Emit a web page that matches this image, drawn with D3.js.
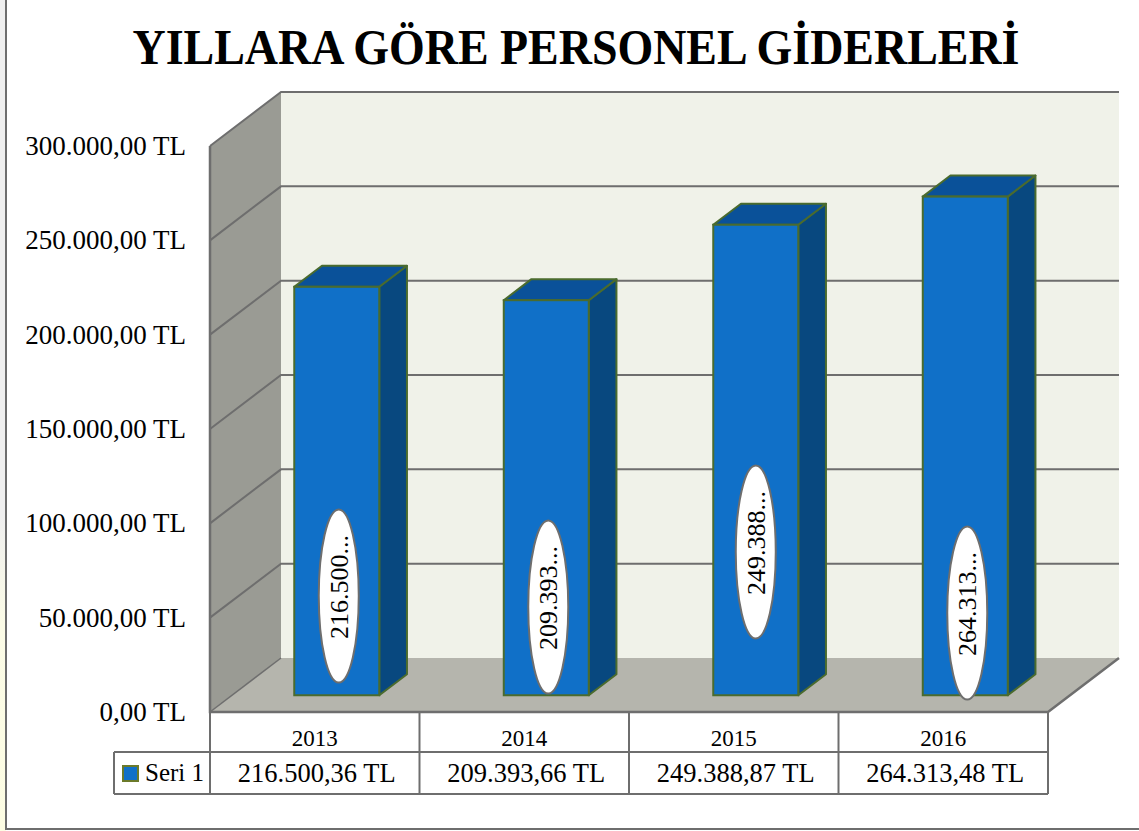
<!DOCTYPE html>
<html>
<head>
<meta charset="utf-8">
<script src="https://cdn.jsdelivr.net/npm/d3@7"></script>
<style>
  html, body { margin: 0; padding: 0; background: #fff; }
  svg { display: block; }
  text { font-family: "Liberation Serif", serif; fill: #000; }
</style>
</head>
<body>
<div id="chart"></div>
<script>
const years = ["2013", "2014", "2015", "2016"];
const values = [216500.36, 209393.66, 249388.87, 264313.48];
const tableLabels = ["216.500,36 TL", "209.393,66 TL", "249.388,87 TL", "264.313,48 TL"];
const bubbleLabels = ["216.500...", "209.393...", "249.388...", "264.313..."];
const yTicks = [0, 50000, 100000, 150000, 200000, 250000, 300000];
const yTickLabels = ["0,00 TL", "50.000,00 TL", "100.000,00 TL", "150.000,00 TL", "200.000,00 TL", "250.000,00 TL", "300.000,00 TL"];
const seriesName = "Seri 1";
const title = "YILLARA GÖRE PERSONEL GİDERLERİ";

const width = 1139, height = 831;
const grey = "#6e6e6e";

// front edge of the 3d box
const boxLeft = 210, boxRight = 1048, boxBottom = 712, boxTop = 146;
const depthX = 71, depthY = 54;

const x = d3.scaleBand().domain(years).range([boxLeft, boxRight]);
const y = d3.scaleLinear().domain([0, 300000]).range([boxBottom, boxTop]);

// d = 0 front of box, d = 1 back wall
const px = (v, d) => v + depthX * d;
const py = (v, d) => y(v) - depthY * d;

const svg = d3.select("#chart").append("svg")
  .attr("width", width)
  .attr("height", height);

// strip left of the frame, faint yellow towards the bottom
const strip = svg.append("defs").append("linearGradient")
  .attr("id", "strip").attr("x1", 0).attr("y1", 0).attr("x2", 0).attr("y2", 1);
strip.append("stop").attr("offset", 0.62).attr("stop-color", "#efefef");
strip.append("stop").attr("offset", 0.75).attr("stop-color", "#fbfbe6");
strip.append("stop").attr("offset", 1).attr("stop-color", "#fdfde3");
svg.append("rect")
  .attr("width", 6).attr("height", height)
  .attr("fill", "url(#strip)");

// outer frame
svg.append("rect")
  .attr("x", 6).attr("y", -5)
  .attr("width", width).attr("height", 834)
  .attr("fill", "#fff")
  .attr("stroke", grey).attr("stroke-width", 2);

svg.append("text")
  .attr("x", 576).attr("y", 64)
  .attr("text-anchor", "middle")
  .attr("font-size", 50)
  .attr("font-weight", "bold")
  .attr("textLength", 887)
  .attr("lengthAdjust", "spacingAndGlyphs")
  .text(title);

const line = d3.line();

// back wall, side wall, floor
svg.append("path")
  .attr("d", line([[px(boxLeft, 1), py(0, 1)], [px(boxRight, 1), py(0, 1)], [px(boxRight, 1), py(300000, 1)], [px(boxLeft, 1), py(300000, 1)]]) + "Z")
  .attr("fill", "#f0f2e9");

svg.append("path")
  .attr("d", line([[boxLeft, y(0)], [px(boxLeft, 1), py(0, 1)], [px(boxLeft, 1), py(300000, 1)], [boxLeft, y(300000)]]) + "Z")
  .attr("fill", "#9a9b94");

svg.append("path")
  .attr("d", line([[boxLeft, y(0)], [boxRight, y(0)], [px(boxRight, 1), py(0, 1)], [px(boxLeft, 1), py(0, 1)]]) + "Z")
  .attr("fill", "#b5b5ad");

// gridlines
svg.selectAll(".grid")
  .data(yTicks)
  .enter()
  .append("path")
  .attr("class", "grid")
  .attr("d", d => line([[boxLeft, y(d)], [px(boxLeft, 1), py(d, 1)], [px(boxRight, 1), py(d, 1)]]))
  .attr("fill", "none")
  .attr("stroke", d => d === 0 ? "none" : grey)
  .attr("stroke-width", 2);

// box edges
svg.append("path")
  .attr("d", line([[boxLeft, y(300000)], [boxLeft, y(0)], [boxRight, y(0)], [px(boxRight, 1), py(0, 1)]]))
  .attr("fill", "none").attr("stroke", grey).attr("stroke-width", 2.5);
svg.append("path")
  .attr("d", line([[boxLeft, y(0)], [px(boxLeft, 1), py(0, 1)]]))
  .attr("fill", "none").attr("stroke", grey).attr("stroke-width", 1.5);

// bars
const barFront = 0.31, barBack = 0.70, barWidth = 85;
const bars = svg.selectAll(".bar")
  .data(years)
  .enter()
  .append("g")
  .attr("class", "bar");

const bx0 = (d) => px(x(d) + x.bandwidth() / 2 - barWidth / 2, barFront);
const bx1 = (d) => bx0(d) + barWidth;
const back = (barBack - barFront) * depthX;
const val = (i) => values[i];

bars.append("path") // side
  .attr("d", (d, i) => line([
    [bx1(d), py(0, barFront)], [bx1(d) + back, py(0, barBack)],
    [bx1(d) + back, py(val(i), barBack)], [bx1(d), py(val(i), barFront)]]) + "Z")
  .attr("fill", "#08487f").attr("stroke", "#4a6b2e").attr("stroke-width", 2).attr("stroke-linejoin", "round");

bars.append("path") // top
  .attr("d", (d, i) => line([
    [bx0(d), py(val(i), barFront)], [bx1(d), py(val(i), barFront)],
    [bx1(d) + back, py(val(i), barBack)], [bx0(d) + back, py(val(i), barBack)]]) + "Z")
  .attr("fill", "#0a5199").attr("stroke", "#4a6b2e").attr("stroke-width", 2).attr("stroke-linejoin", "round");

bars.append("rect") // front
  .attr("x", d => bx0(d))
  .attr("y", (d, i) => py(val(i), barFront))
  .attr("width", barWidth)
  .attr("height", (d, i) => py(0, barFront) - py(val(i), barFront))
  .attr("fill", "#1070c8").attr("stroke", "#4a6b2e").attr("stroke-width", 2);

// data label bubbles were dragged by hand in the source chart
const bubbleShiftX = [2, 2, 0, 2];
const bubbleCy = [596, 607, 552, 613];
const bubbles = svg.selectAll(".bubble")
  .data(years)
  .enter()
  .append("g")
  .attr("class", "bubble")
  .attr("transform", (d, i) => `translate(${bx0(d) + barWidth / 2 + bubbleShiftX[i]},${bubbleCy[i]})`);

bubbles.append("ellipse")
  .attr("rx", 20).attr("ry", 86.5)
  .attr("fill", "#fff").attr("stroke", grey).attr("stroke-width", 2);

bubbles.append("text")
  .attr("transform", "rotate(-90)")
  .attr("x", 9)
  .attr("text-anchor", "middle")
  .attr("dy", "0.35em")
  .attr("font-size", 26)
  .text((d, i) => bubbleLabels[i]);

// y labels
svg.selectAll(".ylabel")
  .data(yTicks)
  .enter()
  .append("text")
  .attr("class", "ylabel")
  .attr("x", 186)
  .attr("y", d => y(d) + 9)
  .attr("text-anchor", "end")
  .attr("font-size", 27)
  .text((d, i) => yTickLabels[i]);

// data table
const rowTop = boxBottom, rowMid = 752, rowBottom = 794, legendLeft = 114;
const tableLines = [
  [[boxLeft, rowTop], [boxLeft, rowBottom]],
  [[legendLeft, rowMid], [boxRight, rowMid]],
  [[legendLeft, rowBottom], [boxRight, rowBottom]],
  [[legendLeft, rowMid], [legendLeft, rowBottom]]
];
years.forEach(d => tableLines.push([[x(d) + x.bandwidth(), rowTop], [x(d) + x.bandwidth(), rowBottom]]));

svg.selectAll(".tline")
  .data(tableLines)
  .enter()
  .append("path")
  .attr("class", "tline")
  .attr("d", d => line(d))
  .attr("fill", "none").attr("stroke", grey).attr("stroke-width", 2);

svg.selectAll(".year")
  .data(years)
  .enter()
  .append("text")
  .attr("class", "year")
  .attr("x", d => x(d) + x.bandwidth() / 2)
  .attr("y", 746)
  .attr("text-anchor", "middle")
  .attr("font-size", 23)
  .text(d => d);

svg.selectAll(".cell")
  .data(years)
  .enter()
  .append("text")
  .attr("class", "cell")
  .attr("x", d => x(d) + x.bandwidth() / 2 + 2)
  .attr("y", 782)
  .attr("text-anchor", "middle")
  .attr("font-size", 26.5)
  .text((d, i) => tableLabels[i]);

svg.append("rect")
  .attr("x", 123).attr("y", 766).attr("width", 15).attr("height", 15)
  .attr("fill", "#1070c8").attr("stroke", "#6b7a2a").attr("stroke-width", 2);

svg.append("text")
  .attr("x", 145).attr("y", 781)
  .attr("font-size", 25)
  .text(seriesName);
</script>
</body>
</html>
